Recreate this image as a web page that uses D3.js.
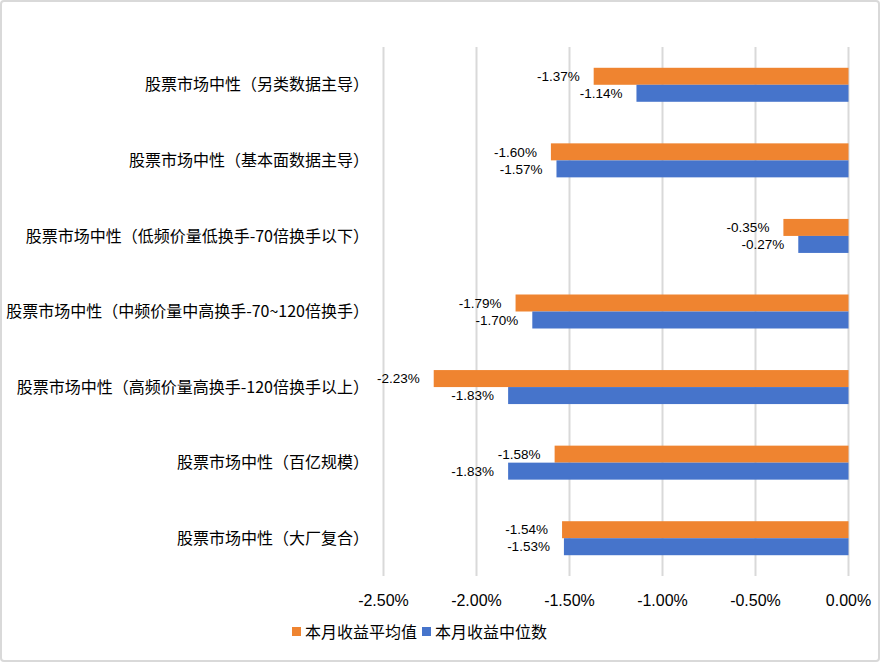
<!DOCTYPE html>
<html>
<head>
<meta charset="utf-8">
<script src="https://cdn.jsdelivr.net/npm/d3@7"></script>
<style>
  body { margin: 0; background: #fff; }
  text { font-family: "Liberation Sans", Arial, "Noto Sans CJK SC", sans-serif; fill: #000; }
</style>
</head>
<body>
<script>
// data
let categories = [
    "股票市场中性（另类数据主导）",
    "股票市场中性（基本面数据主导）",
    "股票市场中性（低频价量低换手-70倍换手以下）",
    "股票市场中性（中频价量中高换手-70~120倍换手）",
    "股票市场中性（高频价量高换手-120倍换手以上）",
    "股票市场中性（百亿规模）",
    "股票市场中性（大厂复合）"
]
let seriesNames = ["本月收益平均值", "本月收益中位数"]
let meanValues = [-1.37, -1.60, -0.35, -1.79, -2.23, -1.58, -1.54]
let medianValues = [-1.14, -1.57, -0.27, -1.70, -1.83, -1.83, -1.53]
let xTicks = [-2.5, -2.0, -1.5, -1.0, -0.5, 0]
let colors = ["#ef8430", "#4674cb"]

let width = 880, height = 662
let pct = d => d3.format('.2f')(d).replace('−', '-') + '%'

let svg = d3.select('body')
    .append('svg')
    .attr('width', width)
    .attr('height', height)

// outer frame
svg.append('rect')
    .attr('x', 1).attr('y', 1)
    .attr('width', width - 2).attr('height', height - 2)
    .attr('rx', 3)
    .style('fill', 'white')
    .style('stroke', '#d9d9d9')
    .style('stroke-width', 2)

let x = d3.scaleLinear()
    .domain([-2.5, 0])
    .range([383.5, 848.5])

let y = d3.scaleBand()
    .domain(categories)
    .range([47, 576])

let yInner = d3.scaleBand()
    .domain(seriesNames)
    .range([y.bandwidth() / 2 - 17, y.bandwidth() / 2 + 17])

// grid
svg.append('g')
    .selectAll('line')
    .data(xTicks)
    .join('line')
    .attr('x1', d => x(d)).attr('x2', d => x(d))
    .attr('y1', 47).attr('y2', 576)
    .style('stroke', '#d9d9d9')
    .style('stroke-width', 2)

// x tick labels
svg.append('g')
    .selectAll('text')
    .data(xTicks)
    .join('text')
    .attr('x', d => x(d))
    .attr('y', 606)
    .attr('text-anchor', 'middle')
    .style('font-size', '16px')
    .text(d => pct(d))

// category labels
svg.append('g')
    .selectAll('text')
    .data(categories)
    .join('text')
    .attr('x', 369)
    .attr('y', d => y(d) + y.bandwidth() / 2)
    .attr('dy', '0.35em')
    .attr('text-anchor', 'end')
    .style('font-size', '16px')
    .style('font-family', '"Noto Sans CJK SC", sans-serif')
    .text(d => d)

let rows = []
categories.forEach((c, i) => {
    rows.push({ cat: c, s: seriesNames[0], v: meanValues[i], color: colors[0] })
    rows.push({ cat: c, s: seriesNames[1], v: medianValues[i], color: colors[1] })
})

svg.append('g')
    .selectAll('rect')
    .data(rows)
    .join('rect')
    .attr('x', d => x(d.v))
    .attr('y', d => y(d.cat) + yInner(d.s))
    .attr('width', d => x(0) - x(d.v))
    .attr('height', yInner.bandwidth())
    .style('fill', d => d.color)

svg.append('g')
    .selectAll('text')
    .data(rows)
    .join('text')
    .attr('x', d => x(d.v) - 14)
    .attr('y', d => y(d.cat) + yInner(d.s) + yInner.bandwidth() / 2)
    .attr('dy', '0.35em')
    .attr('text-anchor', 'end')
    .style('font-size', '13.5px')
    .text(d => pct(d.v))

// legend
let legend = svg.append('g')
let lx = [292, 422]
seriesNames.forEach((s, i) => {
    legend.append('rect')
        .attr('x', lx[i]).attr('y', 627)
        .attr('width', 9).attr('height', 9)
        .style('fill', colors[i])
    legend.append('text')
        .attr('x', lx[i] + 13)
        .attr('y', 632)
        .attr('dy', '0.35em')
        .style('font-size', '16px')
        .style('font-family', '"Noto Sans CJK SC", sans-serif')
        .text(s)
})
</script>
</body>
</html>
